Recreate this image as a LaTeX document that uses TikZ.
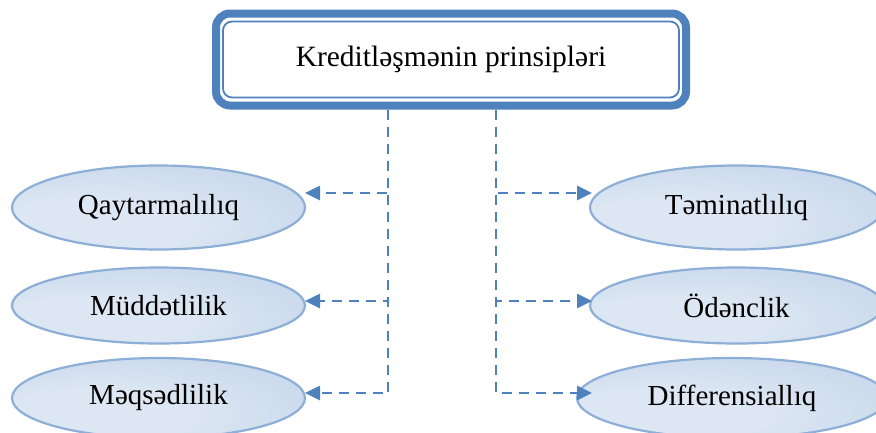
\documentclass[tikz,border=0pt]{standalone}
\usepackage{fontspec}
\setmainfont{Liberation Serif}
\usetikzlibrary{shapes.geometric,arrows.meta}
\definecolor{boxblue}{RGB}{79,129,189}
\definecolor{ellline}{RGB}{141,174,214}
\definecolor{elllight}{RGB}{221,231,243}
\definecolor{ellmid}{RGB}{202,217,236}
\definecolor{elldark}{RGB}{172,194,224}
\pgfdeclareradialshading{ellshade}{\pgfpoint{-14bp}{-14bp}}{%
  color(0bp)=(elllight); color(16bp)=(elllight); color(36bp)=(ellmid); color(56bp)=(elldark); color(80bp)=(elldark)}
\tikzset{
  titlebox/.style={draw=boxblue, line width=8pt, rounded corners=14pt, fill=white,
    minimum width=470pt, minimum height=92pt, inner sep=0pt,
    font=\fontsize{29.5}{35}\selectfont},
  oval/.style={ellipse, draw=ellline, line width=2.2pt, inner sep=0pt,
    minimum width=293pt, minimum height=84pt,
    shading=ellshade,
    font=\fontsize{29}{35}\selectfont},
  conn/.style={draw=boxblue, line width=2.6pt, dash pattern=on 10pt off 7pt,
    -{Triangle[length=15pt,width=14pt]}}
}
\begin{document}
\begin{tikzpicture}[x=1pt,y=1pt]
\useasboundingbox (0,0) rectangle (876,-432);
% title box
\node[titlebox] (top) at (451,-59.5) {Kreditləşmənin prinsipləri};
\draw[boxblue, line width=1.8pt, rounded corners=9pt]
  ([shift={(11,12)}]top.south west) rectangle ([shift={(-11,-12)}]top.north east);
% ellipses
\node[oval] (q) at (158.5,-207.5) {Qaytarmalılıq};
\node[oval, minimum height=76pt] (m) at (158.5,-305.5) {Müddətlilik};
\node[oval, minimum height=80pt] (s) at (158.5,-398) {Məqsədlilik};
\node[oval] (t) at (736.5,-207.5) {Təminatlılıq};
\node[oval, minimum height=76pt] (o) at (736.5,-305.5) {Ödənclik};
\node[oval, minimum height=80pt, minimum width=310pt] (d) at (732,-398) {Differensiallıq};
% junction columns and arrow tips
\coordinate (jl) at (388,0);
\coordinate (jr) at (496,0);
\coordinate (tq) at (305,-193);
\coordinate (tm) at (305,-301);
\coordinate (ts) at (305,-393);
\coordinate (tt) at (592,-193);
\coordinate (to) at (592,-301);
\coordinate (td) at (592,-393);
% connectors
\draw[conn] (top.south -| jl) |- (tq);
\draw[conn] (top.south -| jl) |- (tm);
\draw[conn] (top.south -| jl) |- (ts);
\draw[conn] (top.south -| jr) |- (tt);
\draw[conn] (top.south -| jr) |- (to);
\draw[conn] (top.south -| jr) |- (td);
\end{tikzpicture}
\end{document}
